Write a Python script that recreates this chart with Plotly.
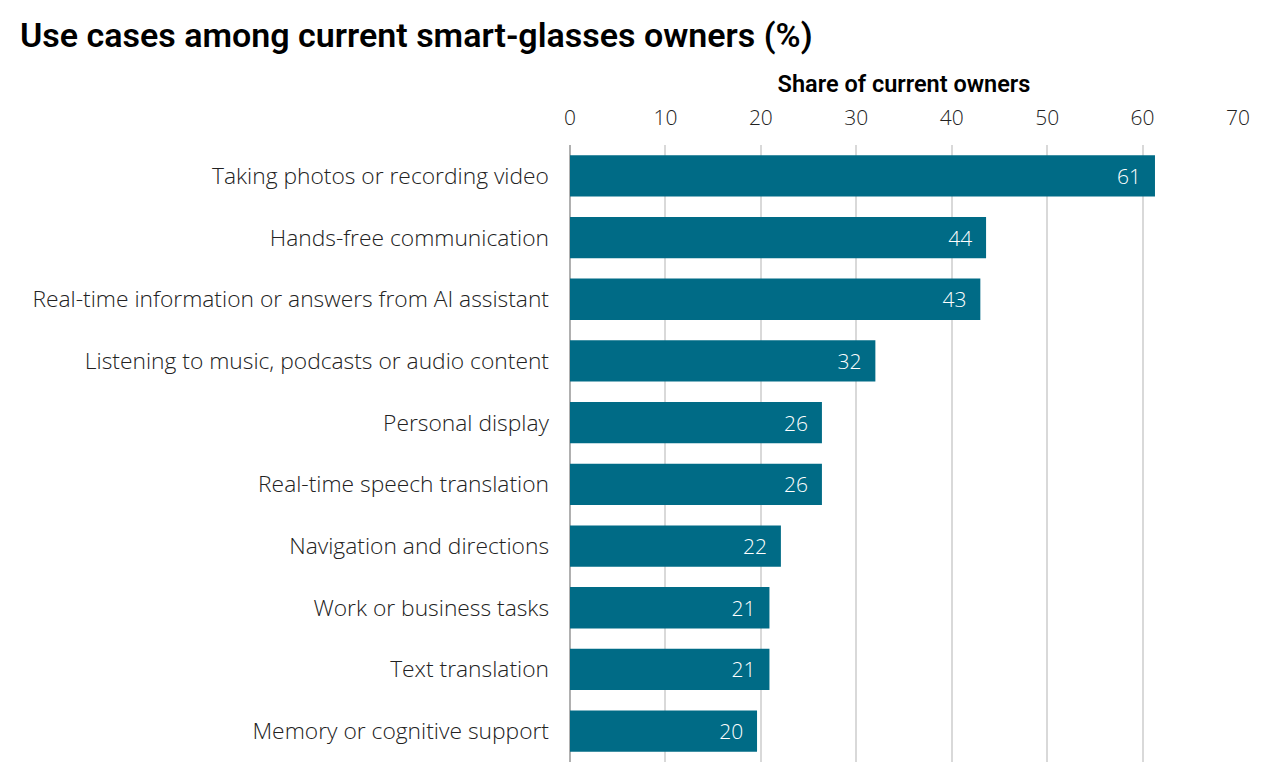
import plotly.graph_objects as go

# use cases and share of current owners (%)
use_cases = [
    "Taking photos or recording video",
    "Hands-free communication",
    "Real-time information or answers from AI assistant",
    "Listening to music, podcasts or audio content",
    "Personal display",
    "Real-time speech translation",
    "Navigation and directions",
    "Work or business tasks",
    "Text translation",
    "Memory or cognitive support",
]
share = [61.3, 43.6, 43.0, 32.0, 26.4, 26.4, 22.1, 20.9, 20.9, 19.6]
labels = ["61", "44", "43", "32", "26", "26", "22", "21", "21", "20"]
ticks = [0, 10, 20, 30, 40, 50, 60, 70]

bar_color = "#006b86"
font_name = "Open Sans"
# pad the value labels away from the bar end
pad = "\u00a0\u00a0"

fig = go.Figure(go.Bar(
    x=share, y=use_cases, orientation="h",
    marker=dict(color=bar_color, line=dict(width=0)),
    width=0.67,
    text=[t + pad for t in labels], textposition="inside", insidetextanchor="end",
    textfont=dict(color="white", size=21, family=font_name, weight=300),
    hoverinfo="skip",
))

fig.update_layout(
    width=1280, height=783,
    margin=dict(l=562, r=50, t=137, b=29),
    paper_bgcolor="white", plot_bgcolor="white",
    showlegend=False,
    title=dict(text="Use cases among current smart-glasses owners (%)",
               x=0.0094, xanchor="left", y=0.966, yanchor="middle",
               font=dict(size=34, family="Roboto", color="black", weight=600)),
    xaxis=dict(
        side="top", range=[0, 70], tickvals=ticks,
        showgrid=True, gridcolor="#d9d9d9", gridwidth=1.5,
        zeroline=True, zerolinecolor="#b0b0b0", zerolinewidth=2,
        ticks="", ticklabelstandoff=15,
        tickfont=dict(size=21, family=font_name, color="#222222", weight=300),
        title=dict(text="Share of current owners", standoff=3,
                   font=dict(size=23.5, family="Roboto", color="black", weight=600)),
        fixedrange=True,
    ),
    yaxis=dict(
        autorange="reversed", showgrid=False, ticks="",
        ticklabelstandoff=20,
        tickfont=dict(size=22.8, family=font_name, color="#222222", weight=300),
        fixedrange=True,
    ),
)

fig.write_html("out.html")
